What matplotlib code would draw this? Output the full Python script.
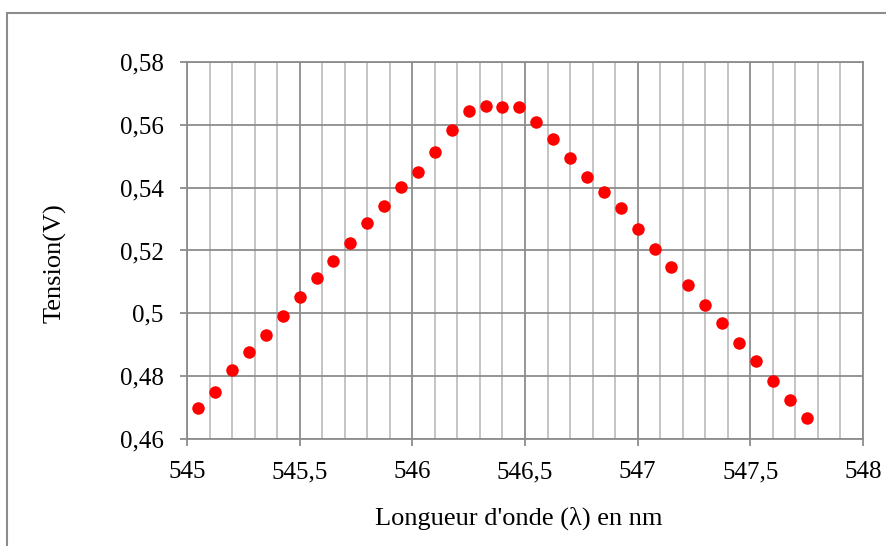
import matplotlib
matplotlib.use("Agg")
import matplotlib.pyplot as plt
from matplotlib.patches import Rectangle
from matplotlib.ticker import MultipleLocator, FuncFormatter

# longueur d'onde (nm) et tension mesurée (V)
lambdas = [545.05, 545.125, 545.2, 545.275, 545.35, 545.425, 545.5, 545.575,
           545.65, 545.725, 545.8, 545.875, 545.95, 546.025, 546.1, 546.175,
           546.25, 546.325, 546.4, 546.475, 546.55, 546.625, 546.7, 546.775,
           546.85, 546.925, 547.0, 547.075, 547.15, 547.225, 547.3, 547.375,
           547.45, 547.525, 547.6, 547.675, 547.75]
tensions = [0.4699, 0.4751, 0.4819, 0.4877, 0.4932, 0.4992, 0.5052, 0.5112,
            0.5167, 0.5224, 0.5286, 0.5342, 0.5401, 0.5450, 0.5512, 0.5582,
            0.5643, 0.5661, 0.5658, 0.5656, 0.5609, 0.5554, 0.5494, 0.5435,
            0.5385, 0.5335, 0.5269, 0.5204, 0.5146, 0.5091, 0.5028, 0.4969,
            0.4906, 0.4847, 0.4786, 0.4724, 0.4666]

x_lim = (545, 548)
y_lim = (0.46, 0.58)
titre_x = "Longueur d'onde (λ) en nm"
titre_y = "Tension(V)"

W, H = 887, 546
GRIS = "#8c8c8c"
GRIS_CLAIR = "#bfbfbf"


def virgule(v, pos):
    return ("%g" % round(v, 4)).replace(".", ",")


plt.rcParams["font.family"] = ["Liberation Serif", "DejaVu Serif"]

fig = plt.figure(figsize=(W / 100, H / 100), dpi=100)
ax = fig.add_axes([187 / W, 1 - 439 / H, (863 - 187) / W, (439 - 62) / H])

ax.set_xlim(*x_lim)
ax.set_ylim(*y_lim)
ax.xaxis.set_major_locator(MultipleLocator(0.5))
ax.xaxis.set_minor_locator(MultipleLocator(0.1))
ax.yaxis.set_major_locator(MultipleLocator(0.02))
ax.xaxis.set_major_formatter(FuncFormatter(virgule))
ax.yaxis.set_major_formatter(FuncFormatter(virgule))

ax.grid(True, which="minor", axis="x", color=GRIS_CLAIR, lw=1.3)
ax.grid(True, which="major", axis="both", color=GRIS, lw=1.3)
ax.set_axisbelow(True)

for nom, sp in ax.spines.items():
    sp.set_color(GRIS)
    sp.set_linewidth(1.3)

ax.tick_params(which="major", direction="out", length=5, width=1.3,
               color=GRIS, labelsize=18, pad=11)
ax.tick_params(which="minor", length=0)
ax.tick_params(axis="y", pad=12)

ax.plot(lambdas, tensions, "o", color="#ff0000", markersize=9,
        markeredgewidth=0, clip_on=False)

# titres des axes placés à la main, comme dans Excel
fig.text(519 / W, 1 - 525 / H, titre_x, fontsize=19,
         ha="center", va="baseline")
fig.text(55 / W, 1 - 263 / H, titre_y, fontsize=19, rotation=90,
         ha="center", va="center")

# cadre de la zone de graphique
fig.patches.append(Rectangle((7 / W, -0.1), 2, 1 - 13 / H + 0.1,
                             transform=fig.transFigure, fill=False,
                             edgecolor=GRIS, lw=1.5))

fig.savefig("out.png", dpi=100)
